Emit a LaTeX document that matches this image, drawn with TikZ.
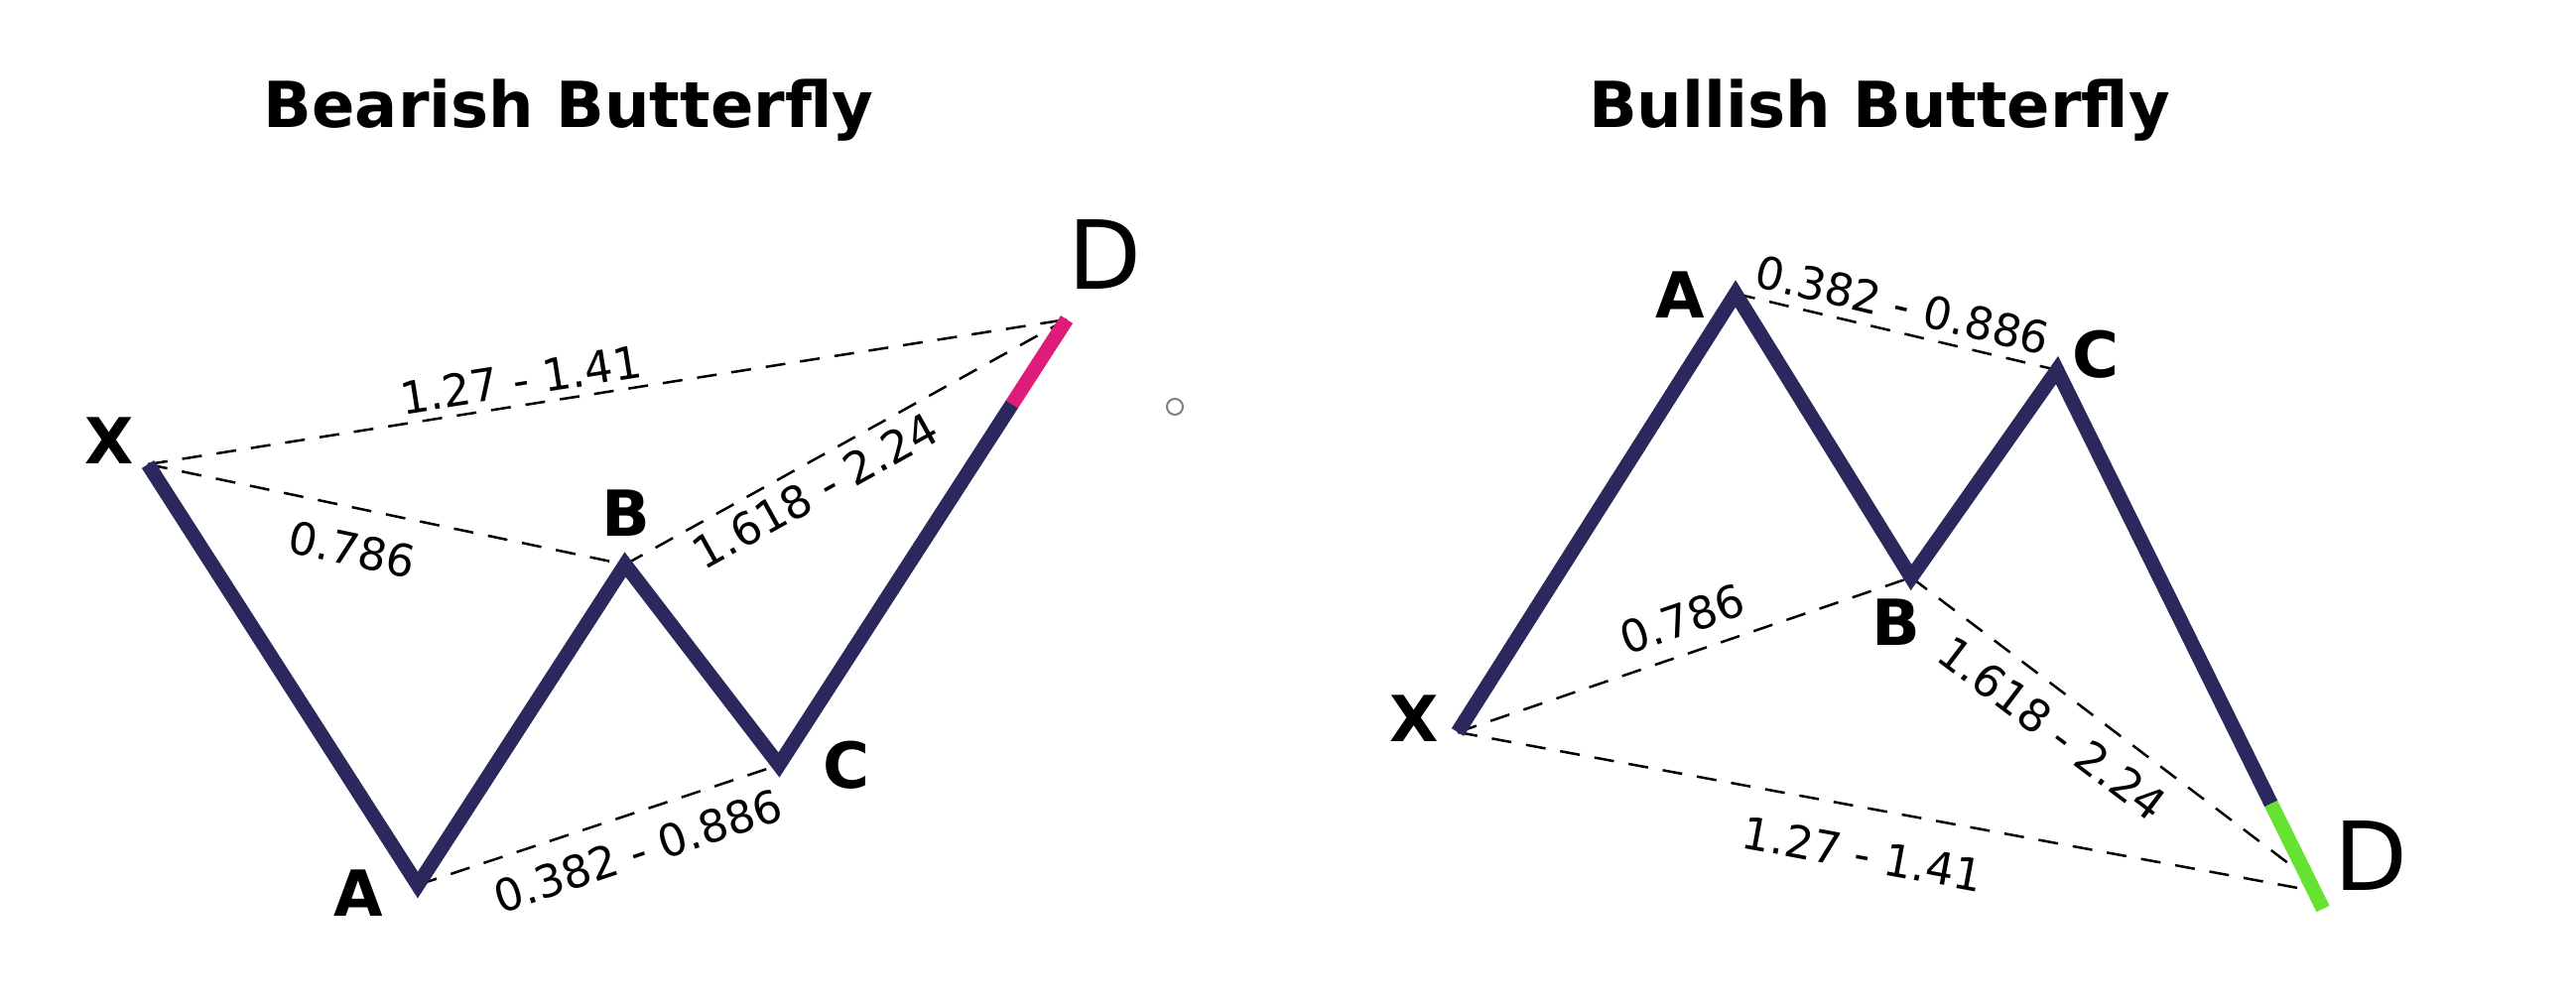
\documentclass[tikz,border=0pt]{standalone}
\usepackage{fontspec}
\setmainfont{DejaVu Sans}
\usepackage{xcolor}
\usepackage{tikz}
\usetikzlibrary{calc}
\definecolor{navy}{RGB}{42,40,92}
\definecolor{bearpink}{RGB}{222,28,122}
\definecolor{bullgreen}{RGB}{104,226,50}
\tikzset{leg/.style={draw=navy,line width=0.145cm}}
\tikzstyle{fib}=[draw=black,line width=0.025cm,dash pattern=on 0.2cm off 0.15cm]
\tikzstyle{ratio}=[font=\fontsize{12.8pt}{14pt}\selectfont,inner sep=0.02cm,sloped]
\tikzstyle{vtx}=[font=\fontsize{18.2pt}{20pt}\selectfont\bfseries,inner sep=0pt]
\tikzstyle{vtxd}=[font=\fontsize{27.3pt}{30pt}\selectfont,inner sep=0pt]
\tikzstyle{title}=[font=\fontsize{18.2pt}{20pt}\selectfont\bfseries,anchor=base,inner sep=0pt]

\begin{document}
\begin{tikzpicture}[x=0.01cm,y=-0.01cm]
    \fill[white] (0,0) rectangle (2596,1016);
    \node (t1) [title] at (573,129) {Bearish Butterfly};
    \node (t2) [title] at (1894,129) {Bullish Butterfly};

    \coordinate (x1) at (149,468);
    \coordinate (a1) at (421,892);
    \coordinate (b1) at (630,569);
    \coordinate (c1) at (785,771);
    \coordinate (d1) at (1075,322);
    \coordinate (e1) at ($(c1)!0.81!(d1)$);
    \draw[fib] (x1) -- node[ratio,pos=0.41,above=0.06cm] {1.27 - 1.41} (d1);
    \draw[fib] (x1) -- node[ratio,pos=0.445,below=0.215cm] {0.786} (b1);
    \draw[fib] (b1) -- node[ratio,pos=0.4,below=0.08cm] {1.618 - 2.24} (d1);
    \draw[fib] (a1) -- node[ratio,pos=0.577,below=0.175cm] {0.382 - 0.886} (c1);
    \draw[leg] (x1) -- (a1) -- (b1) -- (c1) -- (e1);
    \draw[leg,draw=bearpink] (e1) -- (d1);
    \node (lx1) [vtx] at (110,444) {X};
    \node (la1) [vtx] at (361,900) {A};
    \node (lb1) [vtx] at (631,517) {B};
    \node (lc1) [vtx] at (853,771) {C};
    \node (ld1) [vtxd] at (1113,257) {D};
    \node (dot) [circle,draw=gray,line width=0.02cm,minimum size=0.16cm,inner sep=0pt] at (1184,410) {};

    \coordinate (x2) at (1469,738);
    \coordinate (a2) at (1749,296);
    \coordinate (b2) at (1926,582);
    \coordinate (c2) at (2073,373);
    \coordinate (d2) at (2341,916);
    \coordinate (e2) at ($(c2)!0.805!(d2)$);
    \coordinate (f2) at ($(c2)!0.967!(d2)$);
    \coordinate (g2) at ($(c2)!0.943!(d2)$);
    \draw[fib] (a2) -- node[ratio,pos=0.5,above=0.075cm] {0.382 - 0.886} (c2);
    \draw[fib] (x2) -- node[ratio,pos=0.52,above=0.145cm] {0.786} (b2);
    \draw[fib] (b2) -- node[ratio,pos=0.41,below=0.15cm] {1.618 - 2.24} (g2);
    \draw[fib] (x2) -- node[ratio,pos=0.483,below=0.26cm] {1.27 - 1.41} (f2);
    \draw[leg] (x2) -- (a2) -- (b2) -- (c2) -- (e2);
    \draw[leg,draw=bullgreen] (e2) -- (d2);
    \node (lx2) [vtx] at (1425,724) {X};
    \node (la2) [vtx] at (1693,297) {A};
    \node (lb2) [vtx] at (1911,627) {B};
    \node (lc2) [vtx] at (2112,357) {C};
    \node (ld2) [vtxd] at (2389,863) {D};
\end{tikzpicture}
\end{document}
